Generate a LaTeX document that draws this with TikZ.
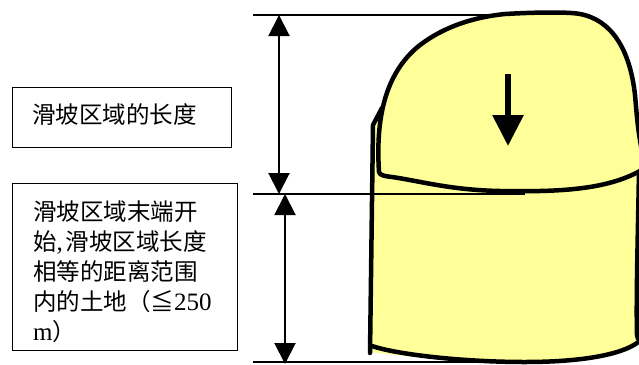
\documentclass[tikz,border=0pt]{standalone}
\usepackage{fontspec}
\setmainfont{Liberation Serif}
\newfontfamily\cjk{Noto Sans CJK SC}
\usetikzlibrary{arrows.meta}
\definecolor{slide}{HTML}{FFFF99}
\newcommand\latin[1]{{\rmfamily\fontsize{25}{30}\selectfont #1}}
\tikzset{
  label box/.style={draw=black, line width=1.3pt, minimum width=#1, inner sep=0pt},
  label text/.style={inner sep=0pt, align=left, font=\cjk\fontsize{23.5}{30}\selectfont},
  guide/.style={line width=1.2pt},
  span/.style={line width=2pt, {Triangle[width=21pt,length=21pt]}-{Triangle[width=21pt,length=21pt]}},
  outline/.style={line width=4.5pt, line join=round, line cap=round},
}
\begin{document}
\begin{tikzpicture}[x=1pt, y=-1pt]
\useasboundingbox (0,0) rectangle (639,364);
\clip (0,0) rectangle (639,364);

% label boxes
\node[label box=219pt, minimum height=60pt, anchor=north west] (lenbox) at (12,87) {};
\node[label text, anchor=west] (lentext) at (32,115) {滑坡区域的长度};
\node[label box=225pt, minimum height=167pt, anchor=north west] (landbox) at (12,183) {};
\node[label text, anchor=north west] (landtext) at (33,201)
  {滑坡区域末端开\\始\latin{,}\hspace{3pt}滑坡区域长度\\相等的距离范围\\内的土地（≦\latin{250}\\\latin{m}）};

% slide body: lower block
\fill[slide] (382,108) -- (373,125) -- (370,352) .. controls (400,356) and (460,362) .. (525,362)
  .. controls (580,362) and (620,355) .. (637,343) -- (645,343) -- (645,168)
  -- (379,172) -- cycle;

% reference lines
\coordinate (t0) at (253,15);  \coordinate (t1) at (493,15);
\coordinate (m0) at (253,194); \coordinate (m1) at (525,194);
\coordinate (b0) at (253,362); \coordinate (b1) at (525,362);
\draw[guide] (t0) -- (t1);
\draw[guide] (m0) -- (m1);
\draw[guide] (b0) -- (b1);

% lower block outline
\draw[outline] (382,108) -- (373,125) -- (370,353);
\draw[outline] (372,346) .. controls (395,354) and (460,362) .. (525,362)
  .. controls (580,362) and (620,355) .. (637,343);
\draw[outline] (639,170) .. controls (638,230) and (636,300) .. (637,335) .. controls (638,340) .. (645,345);

% slide body: upper lobe
\filldraw[outline, fill=slide] (379,172)
  .. controls (376,125) and (382,75) .. (420,45)
  .. controls (445,26) and (475,17) .. (505,14)
  .. controls (540,12) and (570,12) .. (580,14)
  .. controls (612,20) and (630,50) .. (635,95)
  .. controls (638,130) .. (645,168)
  .. controls (610,190) and (560,192) .. (500,191)
  .. controls (450,190) and (420,181) .. (392,177)
  .. controls (383,176) and (380,175) .. (379,172) -- cycle;

% movement arrow
\coordinate (mv0) at (508,74); \coordinate (mv1) at (508,146);
\draw[line width=6pt, -{Triangle[width=30pt,length=31pt]}] (mv0) -- (mv1);

% dimension arrows
\coordinate (a0) at (279,15);  \coordinate (a1) at (279,194);
\coordinate (c0) at (285,194); \coordinate (c1) at (285,364);
\draw[span] (a0) -- (a1);
\draw[span] (c0) -- (c1);
\end{tikzpicture}
\end{document}
